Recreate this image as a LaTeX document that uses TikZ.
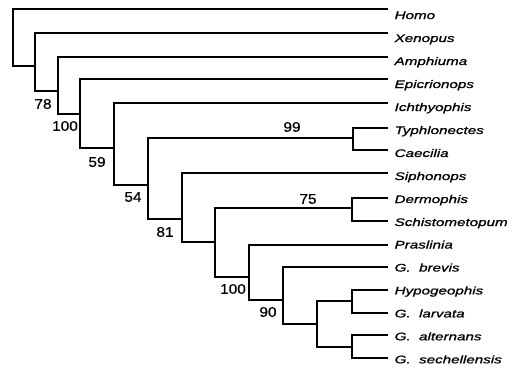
\documentclass[tikz,border=0pt]{standalone}
\usepackage{fontspec}
\setmainfont{Liberation Sans}
\newfontfamily\taxonfont[FakeStretch=1.38,FakeBold=1]{Liberation Sans}
\newfontfamily\suppfont[FakeStretch=1.1,FakeBold=0.6]{Liberation Sans}

\begin{document}
\begin{tikzpicture}[x=1pt,y=-1pt,line width=1.3pt,
  taxon/.style={anchor=base west,inner sep=0pt,font=\taxonfont\itshape\fontsize{11}{12}\selectfont},
  supp/.style={inner sep=0pt,font=\suppfont\fontsize{14}{15}\selectfont}]
  \useasboundingbox (0,0) rectangle (515,368);
  % internal nodes of the tree
  \coordinate (R) at (13,37);
  \coordinate (A) at (35,66);
  \coordinate (B) at (58,91);
  \coordinate (C) at (80,114);
  \coordinate (D) at (114,148);
  \coordinate (E) at (148,185);
  \coordinate (F) at (182,219);
  \coordinate (G) at (215,242);
  \coordinate (H) at (249,277);
  \coordinate (I) at (283,300);
  \coordinate (J) at (317,324);
  \coordinate (TC) at (353,138);
  \coordinate (DS) at (352,208);
  \coordinate (HL) at (352,301);
  \coordinate (AS) at (352,347);
  % leaves: tip, taxon name, label baseline
  \foreach \n/\t/\y/\b in {homo/Homo/9/19, xeno/Xenopus/33/42, amph/Amphiuma/57/65,
      epic/Epicrionops/79/88, icht/Ichthyophis/103/111, typh/Typhlonectes/128/134,
      caec/Caecilia/150/157, siph/Siphonops/173/180, derm/Dermophis/198/203,
      schi/Schistometopum/221/226, pras/Praslinia/245/248.5, brev/G.\ \ brevis/267/271.5,
      hypo/Hypogeophis/290/294.4, larv/G.\ \ larvata/313/317.4,
      alte/G.\ \ alternans/335/340.3, sech/G.\ \ sechellensis/358/363.3}{
    \coordinate (\n) at (388,\y);
    \node[taxon] (\n-lab) at (394,\b) {\t};
  }
  % branches
  \foreach \p/\c in {R/homo,R/A, A/xeno,A/B, B/amph,B/C, C/epic,C/D, D/icht,D/E,
      E/TC,E/F, TC/typh,TC/caec, F/siph,F/G, G/DS,G/H, DS/derm,DS/schi,
      H/pras,H/I, I/brev,I/J, J/HL,J/AS, HL/hypo,HL/larv, AS/alte,AS/sech}
    \draw (\p) |- (\c);
  % bootstrap values
  \node[supp] (s78) at (43,104) {78};
  \node[supp] (s100a) at (65,126) {100};
  \node[supp] (s59) at (97,162) {59};
  \node[supp] (s54) at (133,197) {54};
  \node[supp] (s81) at (165,232) {81};
  \node[supp] (s99) at (292,127) {99};
  \node[supp] (s75) at (308,199) {75};
  \node[supp] (s100b) at (233,289) {100};
  \node[supp] (s90) at (268,312) {90};
\end{tikzpicture}
\end{document}
